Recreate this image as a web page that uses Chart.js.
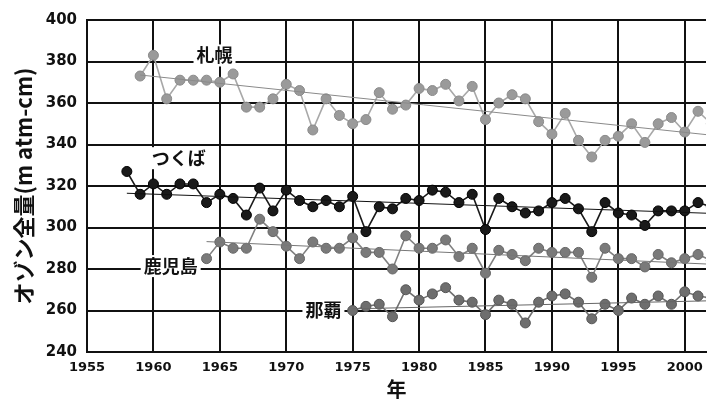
<!DOCTYPE html>
<html>
<head>
<meta charset="utf-8">
<script src="https://cdn.jsdelivr.net/npm/chart.js@4"></script>
<style>
  body { margin: 0; background: #fff; }
  #wrap { width: 712px; height: 401px; }
</style>
</head>
<body>
<div id="wrap"><canvas id="ozone" width="712" height="401"></canvas></div>
<script>
// Total ozone by station (m atm-cm), one value per year
const sapporoStart = 1959;
const sapporo = [373, 383, 362, 371, 371, 371, 370, 374, 358, 358, 362, 369, 366, 347, 362, 354, 350, 352, 365, 357,
  359, 367, 366, 369, 361, 368, 352, 360, 364, 362, 351, 345, 355, 342, 334, 342, 344, 350, 341, 350, 353, 346, 356, 350];
const tsukubaStart = 1958;
const tsukuba = [327, 316, 321, 316, 321, 321, 312, 316, 314, 306, 319, 308, 318, 313, 310, 313, 310, 315, 298, 310, 309,
  314, 313, 318, 317, 312, 316, 299, 314, 310, 307, 308, 312, 314, 309, 298, 312, 307, 306, 301, 308, 308, 308, 312, 310];
const kagoshimaStart = 1964;
const kagoshima = [285, 293, 290, 290, 304, 298, 291, 285, 293, 290, 290, 295, 288, 288, 280, 296, 290, 290, 294, 286,
  290, 278, 289, 287, 284, 290, 288, 288, 288, 276, 290, 285, 285, 281, 287, 283, 285, 287, 284];
const nahaStart = 1975;
const naha = [260, 262, 263, 257, 270, 265, 268, 271, 265, 264, 258, 265, 263, 254, 264, 267, 268, 264, 256, 263,
  260, 266, 263, 267, 263, 269, 267, 266];

// trend lines: [year, value] at both ends
const sapporoTrend = [[1959, 373.5], [2002, 344.5]];
const tsukubaTrend = [[1958, 316.5], [2002, 306.8]];
const kagoshimaTrend = [[1964, 293.2], [2002, 282.3]];
const nahaTrend = [[1975, 260.8], [2002, 264.7]];

// station names and where they sit [year, value]
const stationNames = ['札幌', 'つくば', '鹿児島', '那覇'];
const namePlaces = [[1964.6, 382.9], [1961.9, 333.4], [1961.3, 281.4], [1972.8, 260.3]];

const yTicks = [240, 260, 280, 300, 320, 340, 360, 380, 400];

function toPoints(start, values) {
  return values.map((v, i) => ({ x: start + i, y: v }));
}
function toTrend(ends) {
  return ends.map(p => ({ x: p[0], y: p[1] }));
}

function series(label, pts, line, fill, edge) {
  return {
    label: label,
    data: pts,
    borderColor: line,
    borderWidth: 1.6,
    pointRadius: 5,
    pointBackgroundColor: fill,
    pointBorderColor: edge,
    pointBorderWidth: 1,
    tension: 0
  };
}
function trend(pts, color) {
  return { data: pts, borderColor: color, borderWidth: 1, pointRadius: 0, tension: 0 };
}

// white boxed station names drawn on top
const stationLabels = {
  id: 'stationLabels',
  afterDraw(chart) {
    const ctx = chart.ctx;
    const xs = chart.scales.x, ys = chart.scales.y;
    ctx.save();
    ctx.font = 'bold 18px "Noto Sans CJK JP"';
    ctx.textAlign = 'center';
    ctx.textBaseline = 'middle';
    stationNames.forEach((name, i) => {
      const px = xs.getPixelForValue(namePlaces[i][0]);
      const py = ys.getPixelForValue(namePlaces[i][1]);
      const w = ctx.measureText(name).width;
      ctx.fillStyle = '#fff';
      ctx.fillRect(px - w / 2 - 3, py - 11, w + 6, 22);
      ctx.fillStyle = '#111';
      ctx.fillText(name, px, py);
    });
    ctx.restore();
  }
};

const ctx = document.getElementById('ozone').getContext('2d');
const ozoneChart = new Chart(ctx, {
  type: 'line',
  data: {
    datasets: [
      trend(toTrend(sapporoTrend), '#8a8a8a'),
      trend(toTrend(tsukubaTrend), '#111'),
      trend(toTrend(kagoshimaTrend), '#777'),
      trend(toTrend(nahaTrend), '#666'),
      series('札幌', toPoints(sapporoStart, sapporo), '#a8a8a8', '#9a9a9a', '#8a8a8a'),
      series('つくば', toPoints(tsukubaStart, tsukuba), '#1a1a1a', '#1a1a1a', '#000'),
      series('鹿児島', toPoints(kagoshimaStart, kagoshima), '#808080', '#7a7a7a', '#666'),
      series('那覇', toPoints(nahaStart, naha), '#707070', '#6e6e6e', '#555')
    ]
  },
  options: {
    responsive: false,
    animation: false,
    layout: { padding: { top: 20, right: 0, left: 0, bottom: 0 } },
    plugins: { legend: { display: false }, tooltip: { enabled: false } },
    scales: {
      x: {
        type: 'linear',
        min: 1955,
        max: 2001.6,
        afterFit(scale) { scale.height = 49; },
        grid: { color: '#111', lineWidth: 2, drawTicks: false },
        border: { color: '#111', width: 2 },
        ticks: {
          stepSize: 5,
          includeBounds: false,
          padding: 8,
          color: '#111',
          font: { family: 'DejaVu Sans', size: 13, weight: 'bold' },
          callback: v => String(v)
        },
        title: {
          display: true,
          text: '年',
          color: '#111',
          padding: { top: 0, bottom: 0 },
          font: { family: 'Noto Sans CJK JP', size: 20, weight: 'bold' }
        }
      },
      y: {
        min: 240,
        max: 400,
        afterFit(scale) { scale.width = 87; },
        afterBuildTicks(scale) { scale.ticks = yTicks.map(v => ({ value: v })); },
        grid: { color: '#111', lineWidth: 2, drawTicks: false },
        border: { color: '#111', width: 2 },
        ticks: {
          padding: 10,
          color: '#111',
          font: { family: 'DejaVu Sans', size: 15, weight: 'bold' }
        },
        title: {
          display: true,
          text: 'オゾン全量(m atm-cm)',
          color: '#111',
          padding: { top: 10, bottom: 0 },
          font: { family: 'Noto Sans CJK JP', size: 22, weight: 'bold' }
        }
      }
    }
  },
  plugins: [stationLabels]
});
</script>
</body>
</html>
